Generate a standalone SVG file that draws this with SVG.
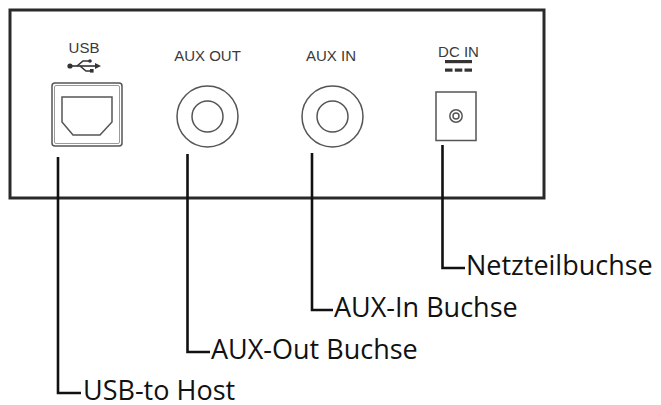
<svg xmlns="http://www.w3.org/2000/svg" width="661" height="405" viewBox="0 0 661 405">
<style>
.panel{fill:#fff;stroke:#2a2a2a;stroke-width:3}
.pl{font-family:"Liberation Sans",Arial,sans-serif;font-size:15px;fill:#3a3a3a;text-anchor:middle}
.part{fill:none;stroke:#555;stroke-width:1.5}
.conn{fill:none;stroke:#111;stroke-width:2.6}
.lbl{font-family:"Open Sans","Noto Sans",sans-serif;font-size:27px;fill:#111}
</style>
<rect width="661" height="405" fill="#fff"/>
<g id="panel">
<rect class="panel" x="10" y="10" width="534" height="188"/>
</g>
<g id="usb">
<text class="pl" x="84" y="53">USB</text>
<g fill="#333" stroke="#333" stroke-width="1.6">
<circle cx="70" cy="66" r="2.6" stroke="none"/>
<line x1="70" y1="66" x2="96" y2="66"/>
<polygon points="95,63 101,66 95,69" stroke="none"/>
<polyline points="77,66 83,61 89,61" fill="none"/>
<circle cx="90" cy="61" r="1.8" stroke="none"/>
<polyline points="80,66 86,71 91,71" fill="none"/>
<rect x="90" y="69" width="3.6" height="3.6" stroke="none"/>
</g>
<rect class="part" x="52" y="83" width="70" height="63" rx="3"/>
<rect x="54.5" y="85.5" width="65" height="58" rx="1.5" fill="none" stroke="#999" stroke-width="1"/>
<polygon class="part" points="62,97 112,97 112,122 100,135 73,135 62,122" stroke-width="1.3"/>
</g>
<g id="aux-out">
<text class="pl" x="207.5" y="61">AUX OUT</text>
<circle class="part" cx="207.5" cy="116.5" r="30.5"/>
<circle class="part" cx="207.5" cy="116.5" r="15.5"/>
</g>
<g id="aux-in">
<text class="pl" x="331" y="61">AUX IN</text>
<circle class="part" cx="332.5" cy="116.5" r="30.5"/>
<circle class="part" cx="332.5" cy="116.5" r="15.5"/>
</g>
<g id="dc-in">
<text class="pl" x="458.5" y="57">DC IN</text>
<rect x="445" y="60" width="27" height="3.2" fill="#333"/>
<rect x="445" y="68.5" width="7.5" height="3.2" fill="#333"/>
<rect x="454.8" y="68.5" width="7.5" height="3.2" fill="#333"/>
<rect x="464.5" y="68.5" width="7.5" height="3.2" fill="#333"/>
<rect class="part" x="436" y="92" width="40" height="48.5" stroke-width="1.2"/>
<circle class="part" cx="456" cy="116" r="6.2"/>
<circle class="part" cx="456" cy="116" r="3"/>
</g>
<g id="connectors">
<polyline class="conn" points="58,157 58,393 81,393"/>
<polyline class="conn" points="187.5,154 187.5,352 210,352"/>
<polyline class="conn" points="312,153 312,310 333,310"/>
<polyline class="conn" points="442.5,145 442.5,268 465,268"/>
</g>
<g id="labels">
<text class="lbl" x="83" y="400">USB-to Host</text>
<text class="lbl" x="211" y="359">AUX-Out Buchse</text>
<text class="lbl" x="334" y="317">AUX-In Buchse</text>
<text class="lbl" x="466" y="275">Netzteilbuchse</text>
</g>
</svg>
